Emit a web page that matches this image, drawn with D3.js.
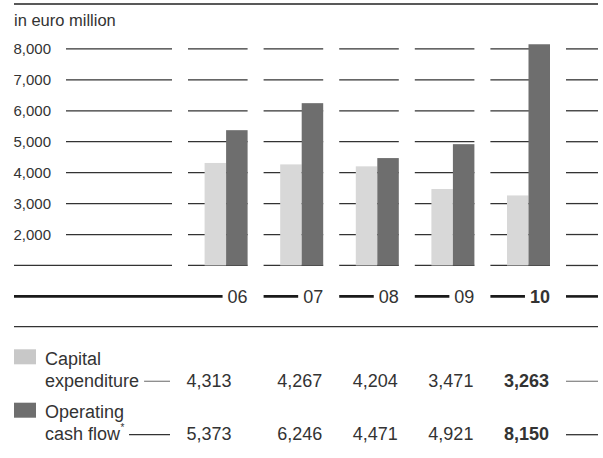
<!DOCTYPE html>
<html><head><meta charset="utf-8">
<script src="https://cdn.jsdelivr.net/npm/d3@7"></script>
<style>
html,body{margin:0;padding:0;background:#fff;}
text{font-family:"Liberation Sans",Arial,sans-serif;fill:#333;}
</style></head>
<body>
<script>
const years = ["06","07","08","09","10"];
const capex = [4313, 4267, 4204, 3471, 3263];
const opcf = [5373, 6246, 4471, 4921, 8150];
const yTicks = [2000, 3000, 4000, 5000, 6000, 7000, 8000];
const unitLabel = "in euro million";
const seriesNames = ["Capital expenditure", "Operating cash flow"];

const W = 603, H = 458;
const svg = d3.select("body").append("svg").attr("width", W).attr("height", H);

const left = 14, right = 598;
const y = d3.scaleLinear().domain([0, 8000]).range([296.4, 48.9]);
const x = d3.scaleBand().domain(years).range([188, 566]).paddingInner(0).paddingOuter(0);
const gap = 16;
const segLen = x.bandwidth() - gap;
const xs = d3.scaleBand().domain(["capex","opcf"]).range([segLen - 43, segLen]);
const lightC = "#d8d8d8", darkC = "#6e6e6e", lineC = "#333";

// top rule
svg.append("line").attr("x1", left).attr("x2", right).attr("y1", 4).attr("y2", 4)
  .attr("stroke", "#222").attr("stroke-width", 1.3);
svg.append("text").attr("x", left).attr("y", 26).attr("font-size", 16.5).text(unitLabel);

// gridlines (1000..8000)
const gridVals = [1000].concat(yTicks);
const g = svg.append("g");
gridVals.forEach(v => {
  const yy = y(v);
  g.append("line").attr("x1", v === 1000 ? left : 66).attr("x2", 172).attr("y1", yy).attr("y2", yy)
    .attr("stroke", lineC).attr("stroke-width", 1.3);
  years.forEach(yr => {
    g.append("line").attr("x1", x(yr)).attr("x2", x(yr) + segLen).attr("y1", yy).attr("y2", yy)
      .attr("stroke", lineC).attr("stroke-width", 1.3);
  });
  g.append("line").attr("x1", x.range()[1]).attr("x2", right).attr("y1", yy).attr("y2", yy)
    .attr("stroke", lineC).attr("stroke-width", 1.3);
});
yTicks.forEach(v => {
  svg.append("text").attr("x", 51).attr("y", y(v)).attr("dy", "0.36em")
    .attr("text-anchor", "end").attr("font-size", 15).text(d3.format(",")(v));
});

// bars (truncated at 1000 line)
const base = y(1000);
years.forEach((yr, i) => {
  svg.append("rect").attr("x", x(yr) + xs("capex")).attr("width", xs.bandwidth())
    .attr("y", y(capex[i])).attr("height", base - y(capex[i])).attr("fill", lightC);
  svg.append("rect").attr("x", x(yr) + xs("opcf")).attr("width", xs.bandwidth())
    .attr("y", y(opcf[i])).attr("height", base - y(opcf[i])).attr("fill", darkC);
});

// year axis
const y0 = y(0);
years.forEach((yr, i) => {
  const t = svg.append("text").attr("x", x(yr) + segLen).attr("y", y0).attr("dy", "0.36em")
    .attr("text-anchor", "end").attr("font-size", 18)
    .attr("font-weight", i === years.length - 1 ? "bold" : "normal").attr("fill", "#222").text(yr);
  const tw = t.node().getComputedTextLength();
  const startX = i === 0 ? left : x(yr);
  svg.append("line").attr("x1", startX).attr("x2", x(yr) + segLen - tw - 5).attr("y1", y0).attr("y2", y0)
    .attr("stroke", "#1a1a1a").attr("stroke-width", 2.6);
});
svg.append("line").attr("x1", x.range()[1]).attr("x2", right).attr("y1", y0).attr("y2", y0)
  .attr("stroke", "#1a1a1a").attr("stroke-width", 2.6);

// table separator
svg.append("line").attr("x1", left).attr("x2", right).attr("y1", 326.7).attr("y2", 326.7)
  .attr("stroke", "#333").attr("stroke-width", 1.2);

// table
const colShift = [-15, 0, 0, 0, 0];
const rows = [
  {l1: "Capital", l2: "expenditure", star: false, vals: capex, color: "#c8c8c8", line: "#8a8a8a", top: 349.3},
  {l1: "Operating", l2: "cash flow", star: true, vals: opcf, color: darkC, line: "#333", top: 402.7}
];
rows.forEach(r => {
  svg.append("rect").attr("x", left).attr("y", r.top).attr("width", 22).attr("height", 15).attr("fill", r.color);
  svg.append("text").attr("x", 45).attr("y", r.top + 15.5).attr("font-size", 18).text(r.l1);
  const t2 = svg.append("text").attr("x", 45).attr("y", r.top + 37.5).attr("font-size", 18).text(r.l2);
  let endX = 45 + t2.node().getComputedTextLength();
  if (r.star) {
    svg.append("text").attr("x", endX + 0.5).attr("y", r.top + 28).attr("font-size", 10).text("*");
    endX += 4;
  }
  const ly = r.top + 32;
  svg.append("line").attr("x1", endX + 5).attr("x2", 170).attr("y1", ly).attr("y2", ly)
    .attr("stroke", r.line).attr("stroke-width", 1.3);
  svg.append("line").attr("x1", x.range()[1]).attr("x2", right).attr("y1", ly).attr("y2", ly)
    .attr("stroke", r.line).attr("stroke-width", 1.3);
  years.forEach((yr, i) => {
    svg.append("text").attr("x", x(yr) + segLen - 1 + colShift[i]).attr("y", r.top + 37.5)
      .attr("text-anchor", "end").attr("font-size", 18)
      .attr("font-weight", i === years.length - 1 ? "bold" : "normal")
      .attr("fill", i === years.length - 1 ? "#111" : "#333")
      .text(d3.format(",")(r.vals[i]));
  });
});
</script>
</body></html>
